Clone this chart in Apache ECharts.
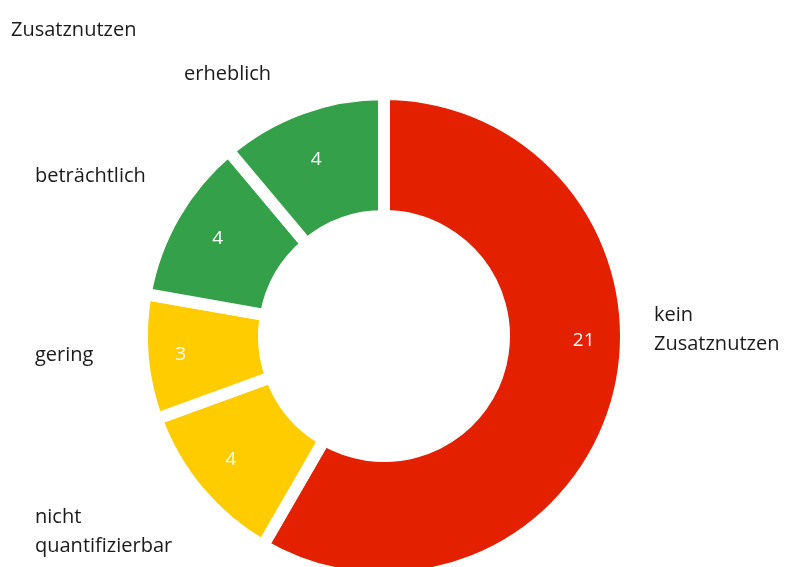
<!DOCTYPE html>
<html>
<head>
<meta charset="utf-8">
<script src="https://cdn.jsdelivr.net/npm/echarts@6/dist/echarts.min.js"></script>
<style>
  html, body { margin: 0; padding: 0; background: #ffffff; }
  #chart { width: 787px; height: 567px; }
</style>
</head>
<body>
<div id="chart"></div>
<script>
// Zusatznutzen categories, in clockwise order starting at 12 o'clock
const categories = ['kein\nZusatznutzen', 'nicht\nquantifizierbar', 'gering', 'beträchtlich', 'erheblich'];
const counts = [21, 4, 3, 4, 4];
const sliceColors = ['#e32100', '#ffcc00', '#ffcc00', '#34a04a', '#34a04a'];

// Where each category name sits (left edge x, vertical centre y)
const nameAnchors = [
  [654, 330],
  [35, 532],
  [35, 355],
  [35, 176],
  [184, 74]
];

const FONT = '"Open Sans", sans-serif';
const center = [384, 336];
const radius = [120, 242];
const gap = 12;

const pieData = categories.map((name, i) => ({
  name: name,
  value: counts[i],
  itemStyle: { color: sliceColors[i] }
}));

const chart = echarts.init(document.getElementById('chart'), null, { renderer: 'canvas' });

chart.setOption({
  backgroundColor: '#ffffff',
  animation: false,
  title: {
    text: 'Zusatznutzen',
    left: 6,
    top: 15,
    textStyle: { fontFamily: FONT, fontSize: 20, fontWeight: 'normal', color: '#1a1a1a' }
  },
  series: [
    {
      // slices with their counts
      type: 'pie',
      center: center,
      radius: radius,
      startAngle: 90,
      clockwise: true,
      data: pieData,
      itemStyle: { borderColor: '#ffffff', borderWidth: gap, borderJoin: 'round' },
      label: {
        show: true,
        position: 'inside',
        formatter: '{c}',
        color: '#ffffff',
        fontFamily: FONT,
        fontSize: 19
      },
      labelLayout: function (p) {
        // the large slice carries its count a little higher on its arc
        if (p.dataIndex === 0) {
          return { dx: 22, dy: -43 };
        }
        const shifts = [[0, 0], [-12, 5], [-20, 3], [-7, -5], [-5, -4]];
        return { dx: shifts[p.dataIndex][0], dy: shifts[p.dataIndex][1] };
      },
      emphasis: { disabled: true }
    },
    {
      // category names around the ring
      type: 'pie',
      center: center,
      radius: radius,
      startAngle: 90,
      clockwise: true,
      silent: true,
      data: pieData.map(d => ({ name: d.name, value: d.value })),
      itemStyle: { color: 'rgba(0,0,0,0)', borderWidth: 0 },
      label: {
        show: true,
        position: 'outside',
        formatter: '{b}',
        color: '#1a1a1a',
        fontFamily: FONT,
        fontSize: 20,
        lineHeight: 29,
        align: 'left',
        overflow: 'none',
        width: 200
      },
      labelLine: { show: false },
      labelLayout: function (p) {
        const a = nameAnchors[p.dataIndex];
        return { x: a[0], y: a[1], align: 'left', verticalAlign: 'middle' };
      },
      emphasis: { disabled: true }
    }
  ]
});
</script>
</body>
</html>
